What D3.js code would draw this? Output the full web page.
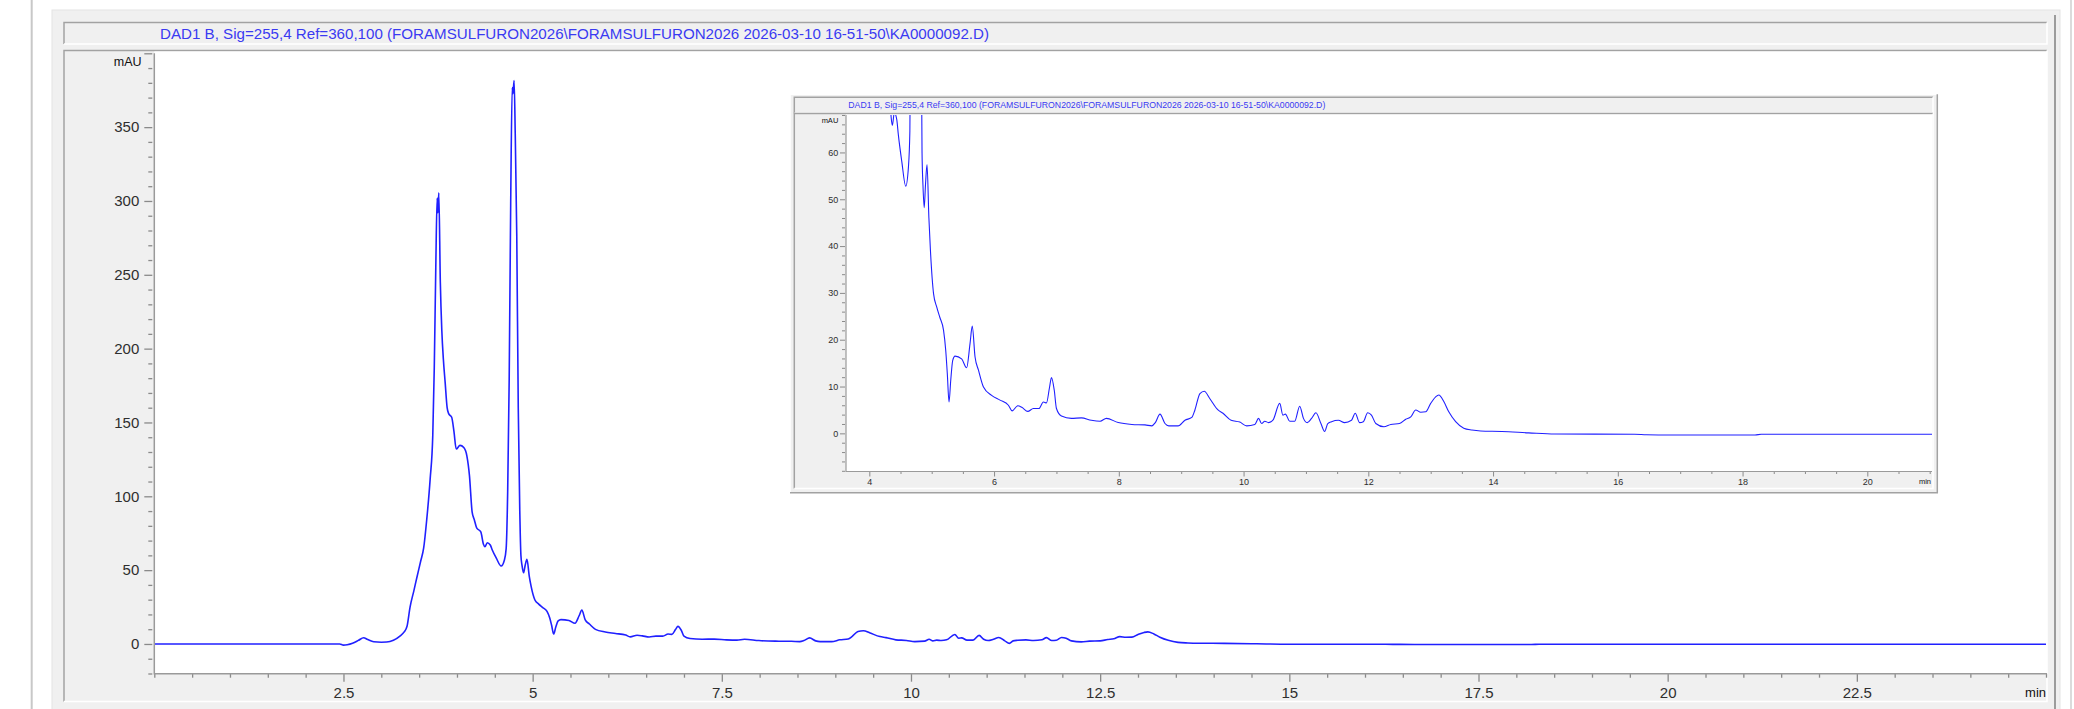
<!DOCTYPE html>
<html>
<head>
<meta charset="utf-8">
<script src="https://cdn.jsdelivr.net/npm/d3@7"></script>
<style>
  body { margin: 0; background: #fff; }
  svg text { font-family: "Liberation Sans", Arial, sans-serif; }
</style>
</head>
<body>
<div id="chart"></div>
<script>
const signalTitle = 'DAD1 B, Sig=255,4 Ref=360,100 (FORAMSULFURON2026\\FORAMSULFURON2026 2026-03-10 16-51-50\\KA0000092.D)';

// retention time (min) and absorbance (mAU)
const times = [
  0, 2.45, 2.5, 2.55, 2.62, 2.7, 2.765, 2.82, 2.9, 3.0, 3.07, 3.16, 3.25, 3.3, 3.34, 3.38,
  3.43, 3.47, 3.52, 3.56, 3.6, 3.646, 3.68, 3.7, 3.72, 3.738, 3.748, 3.76, 3.78, 3.8, 3.82, 3.844,
  3.87, 3.89, 3.93, 3.96, 3.99, 4.04, 4.09, 4.13, 4.165, 4.2, 4.23, 4.26, 4.315, 4.35, 4.37, 4.4,
  4.44, 4.465, 4.52, 4.584, 4.626, 4.65, 4.67, 4.69, 4.71, 4.73, 4.74, 4.755, 4.77, 4.79, 4.81, 4.83,
  4.845, 4.86, 4.88, 4.9, 4.925, 4.955, 4.98, 5.03, 5.08, 5.13, 5.19, 5.225, 5.25, 5.278, 5.305, 5.337,
  5.374, 5.48, 5.56, 5.614, 5.65, 5.695, 5.75, 5.83, 5.96, 6.095, 6.23, 6.29, 6.38, 6.45, 6.54, 6.63,
  6.72, 6.79, 6.84, 6.89, 6.92, 6.965, 7.0, 7.08, 7.24, 7.4, 7.56, 7.7, 7.8, 7.99, 8.21, 8.42,
  8.53, 8.585, 8.66, 8.74, 8.8, 8.95, 9.06, 9.17, 9.22, 9.3, 9.37, 9.46, 9.59, 9.67, 9.8, 9.94,
  10.05, 10.18, 10.24, 10.29, 10.34, 10.4, 10.47, 10.58, 10.63, 10.67, 10.74, 10.82, 10.9, 10.96, 11.02, 11.09,
  11.16, 11.24, 11.3, 11.35, 11.41, 11.52, 11.62, 11.73, 11.79, 11.86, 11.92, 11.99, 12.05, 12.12, 12.25, 12.36,
  12.5, 12.6, 12.68, 12.76, 12.84, 12.92, 13.0, 13.08, 13.13, 13.21, 13.29, 13.4, 13.53, 13.66, 13.8, 14.14,
  14.57, 14.99, 16.27, 16.46, 16.84, 18.2, 18.3, 18.43, 25
];
const signal = [
  0, 0, -0.8, -0.5, 0.5, 2.5, 4.2, 3, 1.5, 1.2, 1.3, 2.5, 5.5, 8, 12, 25,
  36, 45, 56, 65, 84, 112, 141, 187, 255, 302, 292, 305.5, 245, 212, 193, 177,
  160, 156, 153.5, 144, 132, 134.5, 133, 127.6, 114, 89.5, 84, 78.6, 75.9, 67.5, 65.8, 68.5,
  67, 63.8, 58.1, 52.8, 56.7, 64.6, 103, 179, 299, 376.8, 372.7, 381.5, 345.5, 277.4, 160, 90,
  60, 53, 48.2, 53, 57.4, 46, 39, 29.8, 27, 24.8, 22, 17.7, 12.8, 6.7, 11.3, 15.6,
  16.5, 15.9, 14, 19.1, 22.9, 16.3, 13.5, 9.9, 8.1, 7.1, 6, 4.8, 5.9, 5.5, 4.7, 5.3,
  5.3, 6.7, 6.5, 9.9, 11.9, 9.2, 5.3, 3.7, 3.2, 3.3, 2.8, 2.6, 3.2, 2.3, 1.9, 1.8,
  1.6, 2.3, 4.1, 2.1, 1.6, 1.6, 2.8, 3.4, 5, 8.5, 9, 7.4, 5, 4.3, 2.8, 2.4,
  1.6, 1.9, 3.2, 2.1, 2.6, 2.3, 2.8, 6.4, 3.9, 4.1, 2.6, 2.6, 5.8, 3.2, 2.3, 3.2,
  4.4, 2.1, 0.4, 2.1, 2.5, 2.8, 2.3, 2.8, 4.3, 2.3, 2.5, 4.4, 3.9, 2.1, 1.4, 1.9,
  2.1, 3, 3.5, 5, 4.5, 4.6, 6.4, 7.8, 8.2, 6.8, 4.6, 2.5, 1.1, 0.7, 0.5, 0.4,
  0.1, -0.15, -0.2, -0.3, -0.35, -0.35, -0.2, -0.2, -0.2
];

// tick labels
const mainXLabels = [2.5, 5, 7.5, 10, 12.5, 15, 17.5, 20, 22.5];
const mainYLabels = [0, 50, 100, 150, 200, 250, 300, 350];
const insetXLabels = [4, 6, 8, 10, 12, 14, 16, 18, 20];
const insetYLabels = [0, 10, 20, 30, 40, 50, 60];

const trace = times.map((t, i) => ({ t: t, v: signal[i] }));

const W = 2074, H = 709;
const svg = d3.select('#chart').append('svg')
  .attr('width', W).attr('height', H)
  .attr('viewBox', `0 0 ${W} ${H}`);

const lineColor = '#2020ff';
const titleColor = '#3a3af2';
const tickColor = '#8a8a8a';

function bevel(g, b, fill, sunken) {
  const dark = '#a2a2a2', light = '#ffffff';
  g.append('rect').attr('x', b.x).attr('y', b.y).attr('width', b.w).attr('height', b.h).attr('fill', fill);
  g.append('path').attr('d', `M${b.x},${b.y + b.h}V${b.y}H${b.x + b.w}`)
    .attr('fill', 'none').attr('stroke', sunken ? dark : light).attr('stroke-width', 1.5);
  g.append('path').attr('d', `M${b.x},${b.y + b.h}H${b.x + b.w}V${b.y}`)
    .attr('fill', 'none').attr('stroke', sunken ? light : dark).attr('stroke-width', 1.5);
}

function signalPanel(g, p) {
  bevel(g, p.title, '#f0f0f0', true);
  g.append('text')
    .attr('x', p.titleX).attr('y', p.title.y + p.title.h / 2)
    .attr('dominant-baseline', 'central')
    .attr('font-size', p.titleSize)
    .attr('textLength', p.titleLength).attr('lengthAdjust', 'spacingAndGlyphs')
    .attr('fill', titleColor)
    .text(signalTitle);

  bevel(g, p.panel, '#f0f0f0', true);
  const { l, r, t, b } = p.plot;
  g.append('rect').attr('x', l).attr('y', p.panel.y + 1).attr('width', r - l).attr('height', b - p.panel.y - 1)
    .attr('fill', '#ffffff');

  const x = d3.scaleLinear().domain(p.xDomain).range([l, r]);
  const y = d3.scaleLinear().domain(p.yDomain).range([p.yRange[0], p.yRange[1]]);

  const clipId = 'clip-' + p.id;
  g.append('clipPath').attr('id', clipId)
    .append('rect').attr('x', l).attr('y', t).attr('width', r - l).attr('height', b - t);

  const line = d3.line().x(d => x(d.t)).y(d => y(d.v)).curve(d3.curveMonotoneX);
  g.append('path').datum(trace)
    .attr('clip-path', `url(#${clipId})`)
    .attr('fill', 'none')
    .attr('stroke', lineColor)
    .attr('stroke-width', p.lineWidth)
    .attr('stroke-linejoin', 'round')
    .attr('d', line);

  const styleAxis = (a, size) => {
    a.select('.domain').remove();
    a.selectAll('line').attr('stroke', tickColor).attr('stroke-width', p.tickWidth);
    a.selectAll('text').attr('fill', '#2e2e2e').attr('font-size', size);
  };

  // y axis: minor + major ticks, set a little off the axis line
  const yMinor = d3.range(p.yDomain[0], p.yDomain[1] + 0.001, p.yMinorStep)
    .filter(v => Math.abs(v % p.yMajorStep) > 1e-6);
  const yMajor = d3.range(0, p.yDomain[1] + 0.001, p.yMajorStep);
  g.append('g').attr('transform', `translate(${l - p.tickGap},0)`)
    .call(d3.axisLeft(y).tickValues(yMinor).tickSize(p.minorLen).tickFormat(''))
    .call(a => styleAxis(a, p.labelSize));
  g.append('g').attr('transform', `translate(${l - p.tickGap},0)`)
    .call(d3.axisLeft(y).tickValues(yMajor).tickSize(p.majorLen).tickPadding(p.yPad)
      .tickFormat(d => p.yLabels.includes(d) ? d : ''))
    .call(a => styleAxis(a, p.labelSize));

  // x axis
  const xMinor = d3.range(Math.ceil(p.xDomain[0] * 2) / 2, p.xDomain[1] + 0.001, p.xMinorStep)
    .filter(v => !p.xLabels.includes(v));
  g.append('g').attr('transform', `translate(0,${b})`)
    .call(d3.axisBottom(x).tickValues(xMinor).tickSize(p.xMinorLen).tickFormat(''))
    .call(a => styleAxis(a, p.labelSize));
  g.append('g').attr('transform', `translate(0,${b})`)
    .call(d3.axisBottom(x).tickValues(p.xLabels).tickSize(p.majorLen).tickPadding(p.xPad)
      .tickFormat(d => String(d)))
    .call(a => styleAxis(a, p.labelSize));

  // axis lines
  g.append('path').attr('d', `M${l},${t}V${b}H${r}`)
    .attr('fill', 'none').attr('stroke', '#9a9a9a').attr('stroke-width', p.axisWidth);

  g.append('text').attr('x', p.unitX).attr('y', p.unitY)
    .attr('text-anchor', 'end').attr('dominant-baseline', 'central')
    .attr('font-size', p.unitSize).attr('fill', '#111').text('mAU');
  g.append('text').attr('x', r - 1).attr('y', p.minY)
    .attr('text-anchor', 'end')
    .attr('font-size', p.minSize).attr('fill', '#111').text('min');
}

// window chrome
svg.append('line').attr('x1', 31.7).attr('x2', 31.7).attr('y1', 0).attr('y2', H)
  .attr('stroke', '#c8c8c8').attr('stroke-width', 2);
svg.append('rect').attr('x', 52).attr('y', 10).attr('width', 2008).attr('height', 720)
  .attr('fill', '#f0f0f0').attr('stroke', '#e4e4e4').attr('stroke-width', 1);
svg.append('line').attr('x1', 2055).attr('x2', 2055).attr('y1', 15).attr('y2', H)
  .attr('stroke', '#9c9c9c').attr('stroke-width', 2);
svg.append('line').attr('x1', 2071).attr('x2', 2071).attr('y1', 0).attr('y2', H)
  .attr('stroke', '#cfcfcf').attr('stroke-width', 1.5);

const mainG = svg.append('g');
signalPanel(mainG, {
  id: 'main',
  title: { x: 64, y: 22.5, w: 1983, h: 21.5 }, titleX: 160, titleSize: 15, titleLength: 829,
  panel: { x: 64, y: 50.5, w: 1983, h: 651 },
  plot: { l: 154.3, r: 2047, t: 53.3, b: 673.7 },
  xDomain: [0, 25.013], yDomain: [-20, 400], yRange: [673.5, 53.3],
  xLabels: mainXLabels, yLabels: mainYLabels,
  xMinorStep: 0.5, yMinorStep: 10, yMajorStep: 50,
  tickGap: 2, minorLen: 4, majorLen: 8, xMinorLen: 4,
  yPad: 5, xPad: 5.4, labelSize: 15, tickWidth: 1.3, axisWidth: 1.5,
  lineWidth: 1.6,
  unitX: 141.5, unitY: 62, unitSize: 12.5,
  minY: 697, minSize: 13
});

const insetG = svg.append('g');
bevel(insetG, { x: 790, y: 94.3, w: 1147.3, h: 398.4 }, '#f0f0f0', false);
signalPanel(insetG, {
  id: 'inset',
  title: { x: 794.3, y: 97.3, w: 1138.7, h: 16 }, titleX: 848.3, titleSize: 8.5, titleLength: 477,
  panel: { x: 794.3, y: 113.5, w: 1138.7, h: 375 },
  plot: { l: 846, r: 1932, t: 115, b: 471.5 },
  xDomain: [3.626, 21.037], yDomain: [-8, 68], yRange: [470.8, 115],
  xLabels: insetXLabels, yLabels: insetYLabels,
  xMinorStep: 0.5, yMinorStep: 2, yMajorStep: 10,
  tickGap: 1, minorLen: 3, majorLen: 5, xMinorLen: 2.5,
  yPad: 1.7, xPad: 2.6, labelSize: 9, tickWidth: 1, axisWidth: 1.2,
  lineWidth: 1.1,
  unitX: 838.3, unitY: 120, unitSize: 7.5,
  minY: 484.3, minSize: 7.5
});
</script>
</body>
</html>
